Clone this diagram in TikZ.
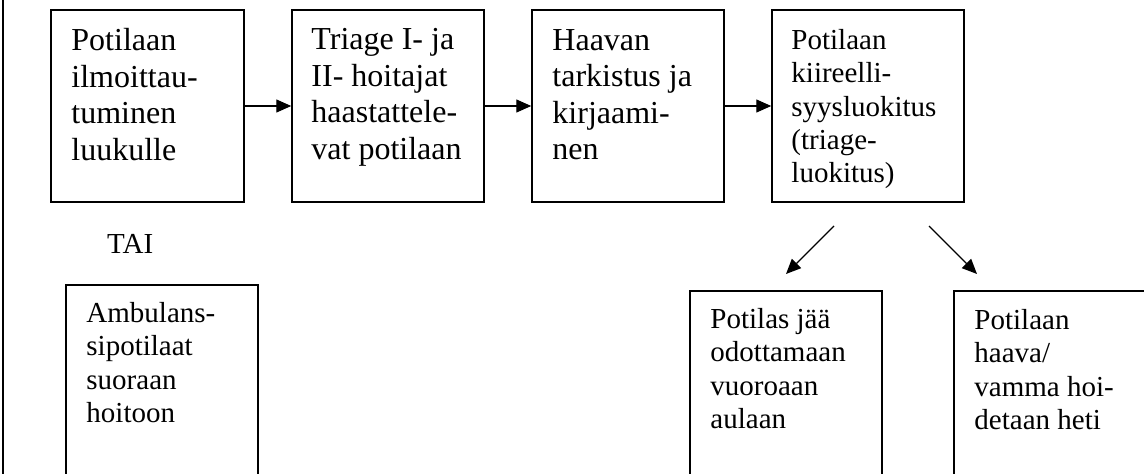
\documentclass[tikz,border=0pt]{standalone}
\usepackage{fontspec}
\setmainfont{Liberation Serif}
\usetikzlibrary{arrows.meta,calc}
\begin{document}
\begin{tikzpicture}[x=1pt,y=-1pt,
  box/.style={draw, line width=1.5pt, inner sep=0pt, minimum width=#1},
  box/.default=192pt,
  bigtxt/.style={font=\fontsize{32}{36.5}\selectfont, align=left, inner sep=0pt, anchor=north west},
  smalltxt/.style={font=\fontsize{29}{33.3}\selectfont, align=left, inner sep=0pt, anchor=north west},
  conn/.style={line width=1.3pt, -{Triangle[length=15pt,width=13pt]}},
  frame/.style={line width=2pt}]
\clip (0,0) rectangle (1144,474);
\fill[white] (0,0) rectangle (1144,474);
% left frame line
\coordinate (ftop) at (3.3,-2);
\coordinate (fbot) at (3.3,480);
\draw[frame] (ftop) -- (fbot);
% top row
\node[box=193pt, minimum height=192pt] (b1) at (147.5,106) {};
\node[box, minimum height=192pt] (b2) at (388,106) {};
\node[box, minimum height=192pt] (b3) at (628,106) {};
\node[box, minimum height=192pt] (b4) at (868,106) {};
\node[bigtxt] (t1) at ($(b1.north west)+(21,19)$) {Potilaan\\ilmoittau-\\tuminen\\luukulle};
\node[bigtxt] (t2) at ($(b2.north west)+(20,19)$) {Triage I- ja\\II- hoitajat\\haastattele-\\vat potilaan};
\node[bigtxt] (t3) at ($(b3.north west)+(21,20)$) {Haavan\\tarkistus ja\\kirjaami-\\nen};
\node[smalltxt] (t4) at ($(b4.north west)+(20,20)$) {Potilaan\\kiireelli-\\syysluokitus\\(triage-\\luokitus)};
\draw[conn] (b1) -- (b2);
\draw[conn] (b2) -- (b3);
\draw[conn] (b3) -- (b4);
% TAI
\node[font=\fontsize{29}{33.3}\selectfont, inner sep=0pt, anchor=base west] (tai) at (107,253) {TAI};
% bottom boxes
\node[box, minimum height=200pt] (b5) at (162,385) {};
\node[smalltxt] (t5) at ($(b5.north west)+(21,18)$) {Ambulans-\\sipotilaat\\suoraan\\hoitoon};
\node[box, minimum height=200pt] (b6) at (786,391) {};
\node[smalltxt] (t6) at ($(b6.north west)+(21,18)$) {Potilas jää\\odottamaan\\vuoroaan\\aulaan};
\node[box=200pt, minimum height=200pt] (b7) at (1054,391) {};
\node[smalltxt] (t7) at ($(b7.north west)+(21,19)$) {Potilaan\\haava/\\vamma hoi-\\detaan heti};
% diagonal arrows
\coordinate (d1s) at (834,226);
\coordinate (d1e) at (786,274);
\coordinate (d2s) at (929,226);
\coordinate (d2e) at (977,274);
\draw[conn] (d1s) -- (d1e);
\draw[conn] (d2s) -- (d2e);
\end{tikzpicture}
\end{document}
